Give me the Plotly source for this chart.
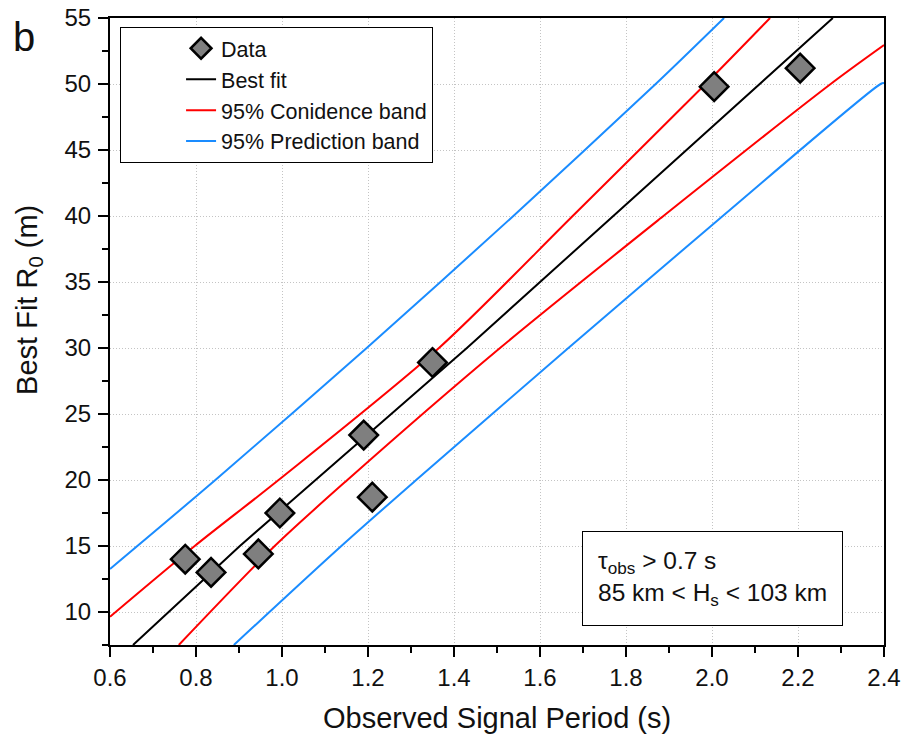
import plotly.graph_objects as go

# Data points
period = [0.775, 0.835, 0.945, 0.995, 1.19, 1.21, 1.35, 2.005, 2.205]
r0 = [14.0, 13.0, 14.4, 17.5, 23.4, 18.7, 28.9, 49.8, 51.2]

# Lines (x, y)
fit_x = [0.6535, 0.902, 1.430, 1.771, 2.281]
fit_y = [7.5, 15, 30, 40, 55]

conf_up_x = [0.6, 0.797, 0.992, 1.365, 1.676, 1.985, 2.135]
conf_up_y = [9.64, 15, 20, 30, 40, 50, 55]
conf_lo_x = [0.760, 0.983, 1.152, 1.507, 1.887, 2.276, 2.4]
conf_lo_y = [7.5, 15, 20, 30, 40, 50, 52.95]

pred_up_x = [0.6, 0.845, 1.197, 1.538, 1.869, 2.028]
pred_up_y = [13.26, 20, 30, 40, 50, 55]
pred_lo_x = [0.888, 1.138, 1.312, 1.666, 2.025, 2.392, 2.4]
pred_lo_y = [7.5, 15, 20, 30, 40, 50, 50.07]

RED = "#ff0000"
BLUE = "#1a8cff"
FONT = "Liberation Sans, Arial, sans-serif"
TXT = "#111111"

fig = go.Figure()
fig.add_trace(go.Scatter(x=fit_x, y=fit_y, mode="lines", name="Best fit",
                         line=dict(color="black", width=2), legendrank=2))
fig.add_trace(go.Scatter(x=conf_up_x, y=conf_up_y, mode="lines", name="95% Conidence band",
                         line=dict(color=RED, width=2, shape="spline", smoothing=0.8),
                         legendrank=3, legendgroup="c"))
fig.add_trace(go.Scatter(x=conf_lo_x, y=conf_lo_y, mode="lines", showlegend=False,
                         line=dict(color=RED, width=2, shape="spline", smoothing=0.8),
                         legendgroup="c"))
fig.add_trace(go.Scatter(x=pred_up_x, y=pred_up_y, mode="lines", name="95% Prediction band",
                         line=dict(color=BLUE, width=2, shape="spline", smoothing=0.8),
                         legendrank=4, legendgroup="p"))
fig.add_trace(go.Scatter(x=pred_lo_x, y=pred_lo_y, mode="lines", showlegend=False,
                         line=dict(color=BLUE, width=2, shape="spline", smoothing=0.8),
                         legendgroup="p"))
fig.add_trace(go.Scatter(x=period, y=r0, mode="markers", name="Data",
                         marker=dict(symbol="diamond", size=22, color="#7f7f7f",
                                     line=dict(color="black", width=2.5)),
                         legendrank=1))

axis_common = dict(
    showline=True, linecolor="black", linewidth=2, mirror=True,
    ticks="outside", ticklen=10, tickwidth=2, tickcolor="black",
    showgrid=True, gridcolor="#c4c4c4", griddash="1px,2px", gridwidth=1,
    zeroline=False, automargin=False,
    tickfont=dict(size=24, color=TXT, family=FONT),
)

fig.update_xaxes(range=[0.6, 2.4], tick0=0.6, dtick=0.2, tickformat=".1f",
                 minor=dict(ticks="outside", ticklen=6, tickwidth=2, tickcolor="black",
                            dtick=0.1, tick0=0.6, showgrid=False),
                 **axis_common)
fig.update_yaxes(range=[7.5, 55], tick0=0, dtick=5, ticklabelstandoff=2,
                 minor=dict(ticks="outside", ticklen=6, tickwidth=2, tickcolor="black",
                            dtick=2.5, tick0=0, showgrid=False),
                 **axis_common)

fig.update_layout(
    width=903, height=740,
    margin=dict(l=110, r=19, t=18, b=95),
    plot_bgcolor="white", paper_bgcolor="white",
    font=dict(family=FONT, color=TXT),
    legend=dict(x=0.013, y=0.986, xanchor="left", yanchor="top",
                bgcolor="white", bordercolor="black", borderwidth=1,
                font=dict(size=21.5, family=FONT, color=TXT),
                indentation=60, tracegroupgap=0),
    annotations=[
        dict(text="Observed Signal Period (s)", xref="paper", yref="paper",
             x=0.5, y=-0.116, xanchor="center", yanchor="middle", showarrow=False,
             font=dict(size=29, family=FONT, color=TXT)),
        dict(text="Best Fit R<sub>0</sub> (m)", xref="paper", yref="paper",
             x=-0.105, y=0.55, xanchor="center", yanchor="middle", showarrow=False,
             textangle=-90, font=dict(size=29, family=FONT, color=TXT)),
        dict(text="b", xref="paper", yref="paper", x=-0.128, y=1.008,
             xanchor="left", yanchor="top", showarrow=False,
             font=dict(size=40, family=FONT, color=TXT)),
        dict(text="τ<sub>obs</sub> &gt; 0.7 s<br>85 km &lt; H<sub>s</sub> &lt; 103 km",
             xref="paper", yref="paper", x=0.61, y=0.182, xanchor="left", yanchor="top",
             showarrow=False, align="left", bgcolor="white",
             bordercolor="black", borderwidth=1, borderpad=15,
             font=dict(size=24.5, family=FONT, color=TXT)),
    ],
)

fig.write_html("out.html")
